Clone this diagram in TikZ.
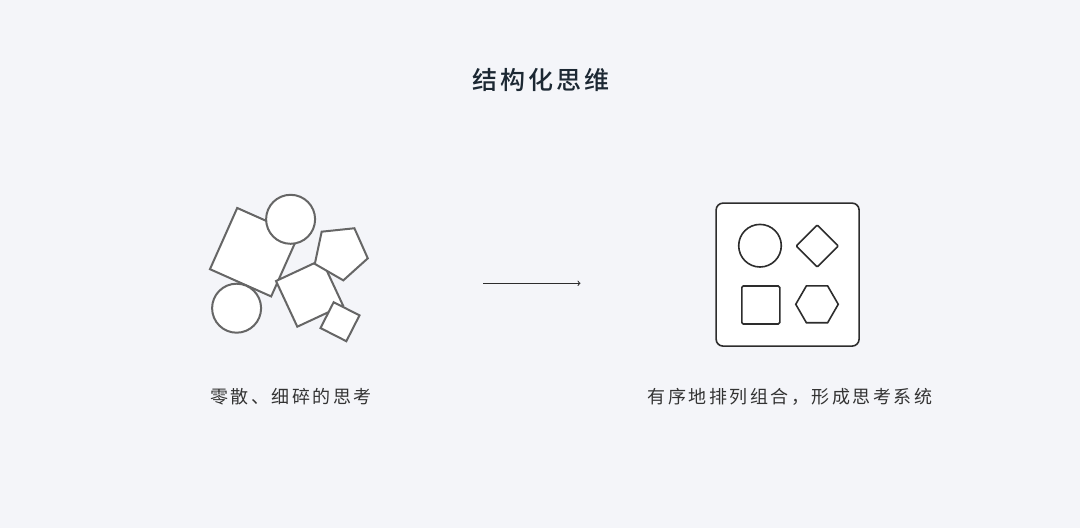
\documentclass[tikz,border=0pt]{standalone}
\usepackage{fontspec}
\usetikzlibrary{shapes.geometric}
\newfontfamily\titlefont[LetterSpace=12]{Noto Sans CJK SC Medium}
\newfontfamily\labelfont[LetterSpace=14]{Noto Sans CJK SC}
\definecolor{bgcolor}{RGB}{244,245,249}
\definecolor{piecegray}{RGB}{102,102,102}
\definecolor{boxdark}{RGB}{45,45,45}
\definecolor{titleink}{RGB}{28,40,51}
\definecolor{labelink}{RGB}{51,51,51}
\tikzset{
  piece/.style={draw=piecegray,line width=2pt,fill=white,inner sep=0pt},
  slot/.style={draw=boxdark,line width=1.6pt,fill=white,inner sep=0pt},
  caption/.style={text=labelink,font=\labelfont\fontsize{18pt}{18pt}\selectfont}
}
\begin{document}
\begin{tikzpicture}[x=1pt,y=-1pt]

% Draw the background
\fill[bgcolor] (0,0) rectangle (1080,528);

% Title
\node[text=titleink,font=\titlefont\fontsize{25pt}{25pt}\selectfont] (title) at (541,79.5) {结构化思维};

% Draw the loose pieces
\node[piece,rectangle,minimum size=67pt,rotate=-24] (big square) at (254.2,252.2) {};
\node[piece,circle,minimum size=49pt] (top circle) at (290.6,219.3) {};
\node[piece,circle,minimum size=49pt] (low circle) at (236.6,308.2) {};
\node[piece,rectangle,minimum size=50.4pt,rotate=25] (mid square) at (309.5,293.2) {};
\node[piece,regular polygon,regular polygon sides=5,minimum size=56pt,rotate=-30] (pentagon) at (340.4,252.5) {};
\node[piece,rectangle,minimum size=29pt,rotate=-27] (small square) at (340,321.7) {};

% Draw the arrow
\coordinate (arrow start) at (483,283.3);
\coordinate (arrow end) at (580.5,283.3);
\draw[-to,boxdark,line width=1pt] (arrow start) -- (arrow end);

% Draw the ordered box
\node[slot,rectangle,rounded corners=7pt,minimum size=143pt] (board) at (787.6,274.6) {};
\node[slot,circle,minimum size=42.6pt] (slot circle) at (760,245.7) {};
\node[slot,rectangle,rounded corners=1pt,minimum size=29.7pt,rotate=45] (slot diamond) at (817.3,246) {};
\node[slot,rectangle,rounded corners=1.5pt,minimum size=38pt] (slot square) at (760.8,305) {};
\node[slot,regular polygon,regular polygon sides=6,minimum size=42.5pt] (slot hexagon) at (817,304.3) {};

% Captions
\node[caption] (left caption) at (291,397) {零散、细碎的思考};
\node[caption] (right caption) at (790,397) {有序地排列组合，形成思考系统};

\end{tikzpicture}
\end{document}
